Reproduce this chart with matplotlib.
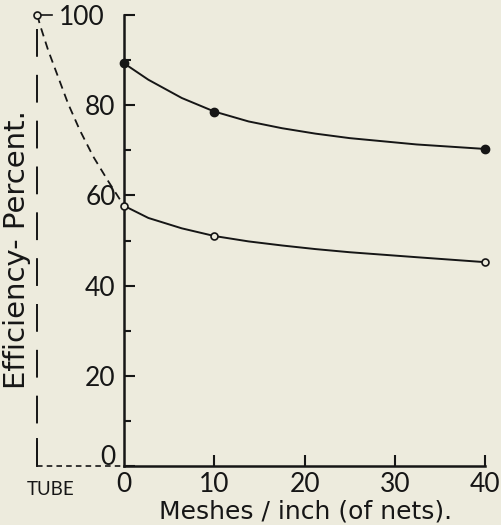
import matplotlib
matplotlib.use('Agg')
import matplotlib.pyplot as plt
from matplotlib.transforms import ScaledTranslation

# Efficiency vs meshes per inch of nets (two series), plus the tube reference
mesh = [0, 10, 40]
eff_upper = [89.3, 78.6, 70.3]
eff_lower = [57.7, 51.0, 45.2]

# points
upper_curve_x = [0, 2.7, 6.4, 10.0, 13.8, 17.5, 21.2, 25.0, 32.4, 40.0]
upper_curve_y = [89.3, 85.65, 81.6, 78.6, 76.4, 74.9, 73.7, 72.7, 71.3, 70.3]
lower_curve_x = [0, 2.7, 6.4, 10.0, 13.8, 17.5, 21.2, 25.0, 32.4, 40.0]
lower_curve_y = [57.7, 55.0, 52.7, 51.0, 49.8, 48.9, 48.1, 47.4, 46.3, 45.2]

tube_x = -9.6
tube_eff = 100
tube_curve_x = [-9.6, -9.3, -8.4, -7.3, -6.2, -4.9, -3.4, -1.7, 0.0]
tube_curve_y = [100, 97.8, 92.2, 86.3, 80.4, 74.5, 68.6, 63.0, 57.7]

y_major = [0, 20, 40, 60, 80, 100]
y_minor = [10, 30, 50, 70, 90]
x_major = [0, 10, 20, 30, 40]

bg = '#edebdd'
ink = '#161616'

plt.rcParams['font.family'] = ['Lato', 'DejaVu Sans']
plt.rcParams['lines.scale_dashes'] = False

fig = plt.figure(figsize=(5.02, 5.25), dpi=100, facecolor=bg)
ax = fig.add_axes([0, 0, 1, 1])
ax.set_facecolor(bg)
ax.set_xlim(-13.73, 41.86)
ax.set_ylim(-13.08, 103.33)

for s in ['top', 'right']:
    ax.spines[s].set_visible(False)
ax.spines['left'].set_position(('data', 0))
ax.spines['bottom'].set_position(('data', 0))
ax.spines['left'].set_bounds(0, 100)
ax.spines['bottom'].set_bounds(0, 40)
for s in ['left', 'bottom']:
    ax.spines[s].set_linewidth(1.8)
    ax.spines[s].set_color(ink)

ax.set_yticks(y_major)
ax.set_yticks(y_minor, minor=True)
ax.set_xticks(x_major)
ax.tick_params(axis='both', which='major', direction='in', length=8, width=1.5,
               colors=ink, labelsize=19, pad=6)
ax.tick_params(axis='y', which='minor', direction='in', length=5, width=1.5, colors=ink)
ax.tick_params(axis='x', pad=4)

# the 100 tick crosses the axis, the 0 label sits a bit higher
yt = ax.yaxis.get_major_ticks()
yt[-1].tick1line.set_marker('_')
yt[-1].tick1line.set_markersize(17)
yt[-1].set_pad(14)
yt[0].label1.set_transform(yt[0].label1.get_transform() +
                           ScaledTranslation(0, 8 / 72, fig.dpi_scale_trans))
xt = ax.xaxis.get_major_ticks()
xt[0].tick1line.set_visible(False)

# tube column: vertical long-dashed line and short-dashed base
ax.plot([tube_x, tube_x], [97, 0], color=ink, lw=1.4, linestyle=(0, (20, 13)))
ax.plot([tube_x, tube_x], [0, 6], color=ink, lw=1.4)
ax.plot([tube_x, 0], [0, 0], color=ink, lw=1.2, linestyle=(0, (4, 3)))
ax.plot(tube_curve_x, tube_curve_y, color=ink, lw=1.3, linestyle=(0, (6, 4)))
ax.plot([tube_x, tube_x + 1.6], [tube_eff, tube_eff], color=ink, lw=1.2)
ax.plot([tube_x], [tube_eff], marker='o', ms=5, mfc=bg, mec=ink, mew=1.2, zorder=5)
ax.text(tube_x - 1.2, -3.3, 'TUBE', fontsize=13.5, color=ink, ha='left', va='top')

# the two measured series
ax.plot(upper_curve_x, upper_curve_y, color=ink, lw=1.4)
ax.plot(lower_curve_x, lower_curve_y, color=ink, lw=1.4)
ax.plot(mesh, eff_upper, 'o', ms=6, color=ink, zorder=5)
ax.plot(mesh, eff_lower, 'o', ms=5, mfc=bg, mec=ink, mew=1.2, zorder=5)

fig.text(17 / 502, 1 - 250 / 525, 'Efficiency- Percent.', rotation=90, fontsize=21,
         family=['DejaVu Sans'], color=ink, ha='center', va='center')
fig.text(306 / 502, 1 - 511 / 525, 'Meshes / inch (of nets).', fontsize=18,
         family=['DejaVu Sans'], color=ink, ha='center', va='center')

fig.savefig('out.png', dpi=100, facecolor=bg)
